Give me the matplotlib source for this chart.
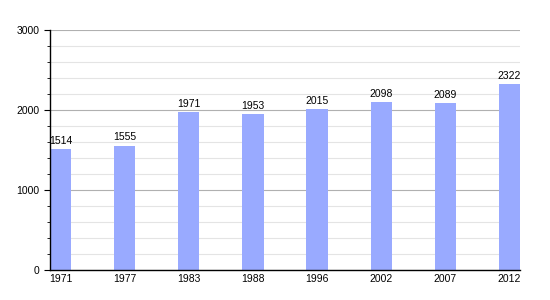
import matplotlib
matplotlib.use('Agg')
import matplotlib.pyplot as plt
from matplotlib.ticker import MultipleLocator

plt.rcParams['font.family'] = ['Liberation Sans', 'DejaVu Sans']

# Population by census year
years = ['1971', '1977', '1983', '1988', '1996', '2002', '2007', '2012']
population = [1514, 1555, 1971, 1953, 2015, 2098, 2089, 2322]

barColor = '#99aaff'
barWidth = 0.33

fig = plt.figure(figsize=(5.5, 3.0), dpi=100)
ax = fig.add_axes([50/550, 30/300, 470/550, 240/300])

x = range(len(years))
ax.bar(x, population, width=barWidth, color=barColor, zorder=2)

# Value labels above each bar
for i, v in zip(x, population):
	ax.text(i, v + 40, str(v), ha='center', va='bottom', fontsize=7.5, zorder=3)

ax.set_xlim(-barWidth/2, len(years) - 1 + barWidth/2)
ax.set_ylim(0, 3000)
ax.set_xticks(list(x))
ax.set_xticklabels(years, fontsize=7.5)
ax.yaxis.set_major_locator(MultipleLocator(1000))
ax.yaxis.set_minor_locator(MultipleLocator(200))
ax.tick_params(axis='y', labelsize=7.5, length=4, direction='out')
ax.tick_params(axis='y', which='minor', length=2)
ax.tick_params(axis='x', length=0, pad=3)

ax.grid(axis='y', which='major', color='#b0b0b0', linewidth=0.8, zorder=0)
ax.grid(axis='y', which='minor', color='#e4e4e4', linewidth=0.8, zorder=0)

for side in ['top', 'right']:
	ax.spines[side].set_visible(False)
ax.spines['left'].set_linewidth(1.0)
ax.spines['bottom'].set_linewidth(1.0)
ax.spines['left'].set_zorder(4)

fig.savefig('out.png', dpi=100)
